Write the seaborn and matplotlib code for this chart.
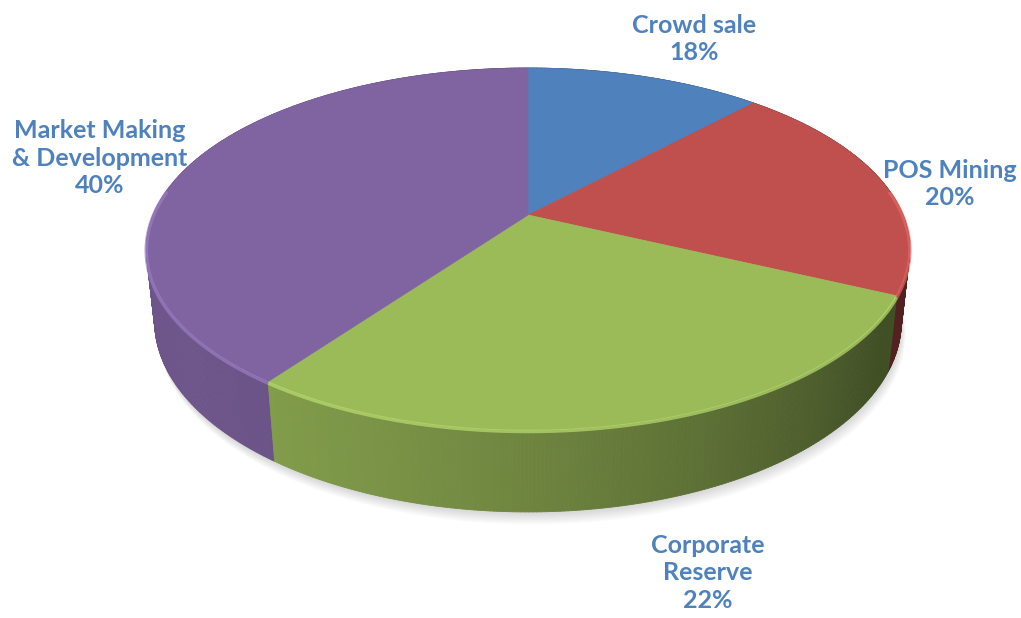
import numpy as np
import matplotlib
matplotlib.use("Agg")
import matplotlib.pyplot as plt
import seaborn as sns
from matplotlib.collections import PolyCollection
from matplotlib.colors import to_rgb

# ---- data ----
categories = ["Crowd sale", "POS Mining", "Corporate\nReserve", "Market Making\n& Development"]
values = [12, 20, 28, 40]            # slice sizes as drawn in the picture
label_pcts = ["18%", "20%", "22%", "40%"]   # percentages as printed on the labels
colors = ["#4F81BD", "#C0504D", "#9BBB59", "#8064A2"]

# ---- layout ----
label_xy = [(694, 39), (950, 184), (708, 573), (100, 158)]

sns.set_theme(style="white")
plt.rcParams['font.family'] = ['Lato', 'DejaVu Sans']

W, H = 1021, 618
fig = plt.figure(figsize=(W / 100, H / 100), dpi=100)
ax = fig.add_axes([0, 0, 1, 1])
ax.set_xlim(0, W)
ax.set_ylim(H, 0)
ax.axis('off')

# perspective camera model
CX, CY = 528, 215
F, D = 1766.0, 4.71
sp = 0.4657
cp = np.sqrt(1 - sp ** 2)
depth = 0.22


def proj(t, z=0.0):
    u = np.sin(t)
    v = np.cos(t)
    yc = v * sp + z * cp
    zc = D + v * cp - z * sp
    return CX + F * u / zc, CY - F * yc / zc, zc


def shade(tdeg):
    f = 0.56 + 0.3 * np.cos(np.radians(tdeg - 240))
    return max(f, 0.42)


total = float(sum(values))
bounds = np.concatenate([[0], np.cumsum(values)]) / total * 360.0

# soft shadow
tt = np.radians(np.linspace(0, 360, 361))
bx, by, _ = proj(tt, -depth)
for k in range(14, 0, -1):
    ax.fill(bx + k * 0.3, by + k * 0.9, color="#a0a0a0", alpha=0.03, lw=0, zorder=1)

# side walls
quads, qcols, qdepth = [], [], []
for i in range(len(values)):
    a0, a1 = bounds[i], bounds[i + 1]
    n = max(int((a1 - a0) * 2), 4)
    ts = np.linspace(a0, a1, n + 1)
    base = np.array(to_rgb(colors[i]))
    for j in range(n):
        t0, t1 = np.radians(ts[j]), np.radians(ts[j + 1])
        x0, y0, z0 = proj(t0, 0)
        x1, y1, z1 = proj(t1, 0)
        x2, y2, _ = proj(t1, -depth)
        x3, y3, _ = proj(t0, -depth)
        quads.append([(x0, y0), (x1, y1), (x2, y2), (x3, y3)])
        qcols.append(np.clip(base * shade(0.5 * (ts[j] + ts[j + 1])), 0, 1))
        qdepth.append(0.5 * (z0 + z1))
order = np.argsort(qdepth)[::-1]
pc = PolyCollection([quads[k] for k in order],
                    facecolors=[qcols[k] for k in order],
                    edgecolors=[qcols[k] for k in order], linewidths=0.6, zorder=2)
ax.add_collection(pc)

# top faces
for i in range(len(values)):
    a0, a1 = bounds[i], bounds[i + 1]
    ts = np.radians(np.linspace(a0, a1, max(int((a1 - a0) * 2), 4) + 1))
    x, y, _ = proj(ts, 0)
    px = np.concatenate([[CX], x])
    py = np.concatenate([[CY], y])
    ax.fill(px, py, color=colors[i], lw=0.5, ec=colors[i], zorder=3)
    # bevel highlight on the front rim
    front = np.cos(ts) < 0.15
    if front.any():
        hl = np.clip(np.array(to_rgb(colors[i])) * 1.12 + 0.05, 0, 1)
        ax.plot(x[front], y[front] + 1.5, color=hl, lw=2.5, alpha=0.7,
                solid_capstyle='butt', zorder=4)

# labels
for (lx, ly), cat, pct in zip(label_xy, categories, label_pcts):
    ax.text(lx, ly, f"{cat}\n{pct}", ha='center', va='center', color="#4F81BD",
            fontsize=18, fontweight='bold', linespacing=1.25, zorder=5)

fig.savefig("out.png", dpi=100)
